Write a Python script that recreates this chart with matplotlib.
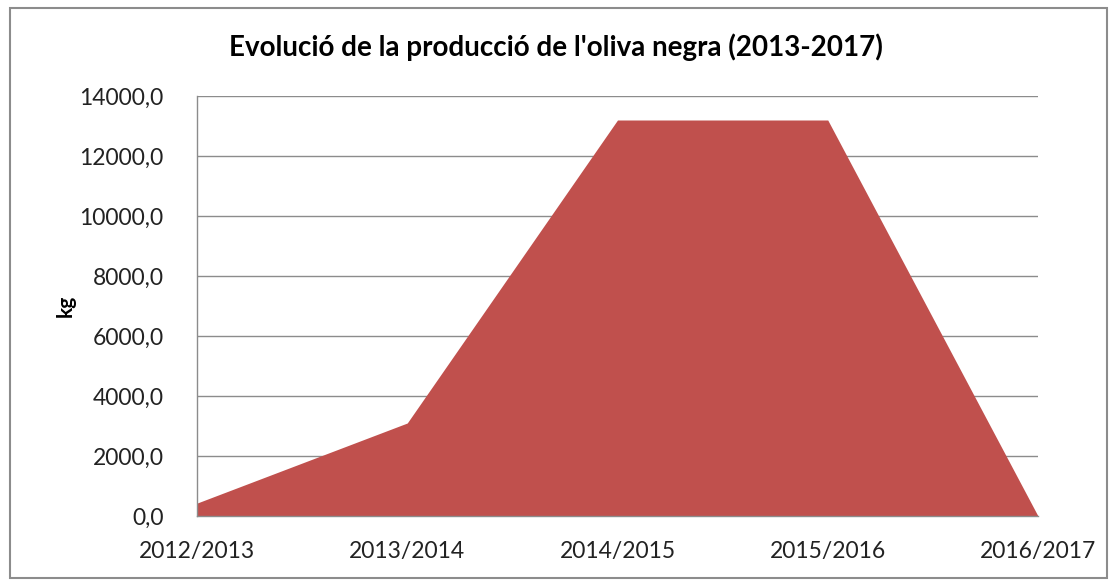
import numpy as np
import matplotlib.pyplot as plt
from matplotlib.ticker import FuncFormatter
from matplotlib.patches import Rectangle

seasons = ['2012/2013', '2013/2014', '2014/2015', '2015/2016', '2016/2017']
production = [430, 3100, 13200, 13200, 0]

plt.rcParams['font.family'] = ['Lato', 'DejaVu Sans']

fig = plt.figure(figsize=(11.11, 5.81), dpi=100)
ax = fig.add_axes([197 / 1111, 1 - 516 / 581, (1038 - 197) / 1111, (516 - 96) / 581])

x = np.arange(len(seasons))
ax.fill_between(x, production, 0, color='#c0504d', lw=0, zorder=2)

ax.set_xlim(0, len(seasons) - 1)
ax.set_ylim(0, 14000)
ax.set_yticks(np.arange(0, 14001, 2000))
ax.yaxis.set_major_formatter(FuncFormatter(lambda v, p: ('%.1f' % v).replace('.', ',')))
ax.set_xticks(x)
ax.set_xticklabels(seasons)

ax.grid(axis='y', color='#8c8c8c', lw=1, zorder=1)
for s in ['top', 'right']:
    ax.spines[s].set_visible(False)
for s in ['left', 'bottom']:
    ax.spines[s].set_color('#8c8c8c')
    ax.spines[s].set_linewidth(1)
ax.tick_params(axis='both', length=0, labelsize=16.5, colors='#222222')
ax.tick_params(axis='y', pad=24)
ax.tick_params(axis='x', pad=18)

ax.set_ylabel('kg', fontsize=15, fontweight='bold', labelpad=3)
fig.text(0.5, 1 - 47 / 581, "Evolució de la producció de l'oliva negra (2013-2017)",
         ha='center', va='center', fontsize=20, fontweight='bold')

fig.patches.append(Rectangle((10 / 1111, 3 / 581), 1097 / 1111, 570 / 581,
                             transform=fig.transFigure, fill=False,
                             edgecolor='#8c8c8c', lw=1.5))

fig.savefig('out.png', dpi=100)
